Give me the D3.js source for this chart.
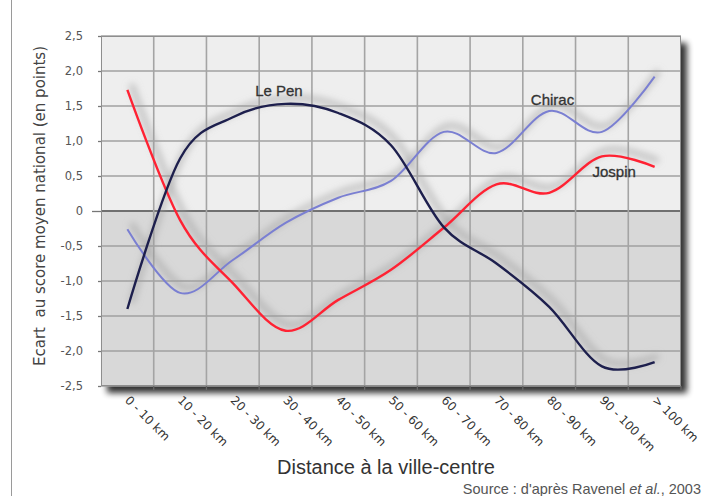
<!DOCTYPE html>
<html><head><meta charset="utf-8">
<script src="https://cdn.jsdelivr.net/npm/d3@7"></script>
<style>
html,body{margin:0;padding:0;background:#fff;}
svg{display:block;}
</style></head>
<body>
<svg id="chart" width="709" height="496"></svg>
<script>
const categories = ["0 - 10 km","10 - 20 km","20 - 30 km","30 - 40 km","40 - 50 km","50 - 60 km","60 - 70 km","70 - 80 km","80 - 90 km","90 - 100 km","> 100 km"];
const lePen  = [-1.40, 0.75, 1.34, 1.53, 1.40, 0.94, -0.23, -0.75, -1.37, -2.22, -2.16];
const chirac = [-0.26, -1.17, -0.70, -0.17, 0.19, 0.43, 1.13, 0.83, 1.43, 1.13, 1.92];
const jospin = [1.73, -0.13, -1.03, -1.71, -1.27, -0.84, -0.24, 0.38, 0.26, 0.78, 0.63];
const yTicks = [2.5, 2.0, 1.5, 1.0, 0.5, 0, -0.5, -1.0, -1.5, -2.0, -2.5];
const yTickLabels = ["2,5","2,0","1,5","1,0","0,5","0","-0,5","-1,0","-1,5","-2,0","-2,5"];
const seriesNames = ["Chirac","Jospin","Le Pen"];

const svg = d3.select("#chart");
const L = 101, R = 681, T = 36, B = 386;

const x = d3.scaleBand().domain(categories).range([L, R]).padding(0);
const y = d3.scaleLinear().domain([-2.5, 2.5]).range([B, T]);

const defs = svg.append("defs");
const sh = defs.append("filter").attr("id","frameShadow").attr("x","-10%").attr("y","-10%").attr("width","130%").attr("height","130%");
sh.append("feGaussianBlur").attr("in","SourceAlpha").attr("stdDeviation",3);
sh.append("feOffset").attr("dx",6).attr("dy",7).attr("result","ob");
sh.append("feComponentTransfer").append("feFuncA").attr("type","linear").attr("slope",0.8);
const m = sh.append("feMerge"); m.append("feMergeNode"); m.append("feMergeNode").attr("in","SourceGraphic");

const lb = defs.append("filter").attr("id","lineBlur").attr("x","-20%").attr("y","-20%").attr("width","140%").attr("height","140%");
lb.append("feGaussianBlur").attr("stdDeviation",3.5);

// left rule
svg.append("line").attr("x1",11.5).attr("x2",11.5).attr("y1",0).attr("y2",496).attr("stroke","#9a9a9a").attr("stroke-width",1);

// plot background with shadow
svg.append("rect").attr("x",L).attr("y",T).attr("width",R-L).attr("height",B-T)
  .attr("fill","#eeeeee").attr("filter","url(#frameShadow)");
svg.append("rect").attr("x",L).attr("y",y(0)).attr("width",R-L).attr("height",B-y(0)).attr("fill","#d8d8d8");

// grid
const grid = svg.append("g").attr("class","grid");
grid.selectAll("line.h").data(yTicks).join("line").attr("class","h")
  .attr("x1",L).attr("x2",R).attr("y1",d=>y(d)).attr("y2",d=>y(d))
  .attr("stroke",d=>d===0?"#707070":"#a0a0a0").attr("stroke-width",d=>d===0?1.8:1.6);
grid.selectAll("line.v").data(categories.slice(1)).join("line").attr("class","v")
  .attr("x1",d=>x(d)).attr("x2",d=>x(d)).attr("y1",T).attr("y2",B)
  .attr("stroke","#a4a4a4").attr("stroke-width",1.6);
svg.append("rect").attr("x",L+0.5).attr("y",T+0.5).attr("width",R-L-1).attr("height",B-T-1)
  .attr("fill","none").attr("stroke","#8e8e8e");

// y axis
const yAxis = d3.axisLeft(y).tickValues(yTicks).tickSize(3).tickPadding(15)
  .tickFormat((d,i)=>yTickLabels[i]);
const ya = svg.append("g").attr("transform",`translate(${L},0)`).call(yAxis);
ya.select(".domain").remove();
ya.selectAll(".tick line").attr("stroke","#777").attr("stroke-width",1.3).attr("x2",d=>d===0?-9:-3);
ya.selectAll(".tick text").attr("font-family","DejaVu Sans, sans-serif").attr("font-size",11.5).attr("fill","#555");

// x axis
const xAxis = d3.axisBottom(x).tickSize(0).tickPadding(0);
const xa = svg.append("g").attr("transform",`translate(0,${B})`).call(xAxis);
xa.select(".domain").remove();
xa.selectAll(".tick text")
  .attr("font-family","DejaVu Sans, sans-serif").attr("font-size",12).attr("fill","#333")
  .attr("text-anchor","start").attr("dy",0).attr("y",0)
  .attr("transform","translate(-3,15) rotate(45)");
svg.append("g").selectAll("line").data(categories.slice(1).concat(["__end"])).join("line")
  .attr("x1",d=>d==="__end"?R:x(d)).attr("x2",d=>d==="__end"?R:x(d))
  .attr("y1",B).attr("y2",B+4).attr("stroke","#666").attr("stroke-width",1.3);

// lines
const line = d3.line().x((d,i)=>x(categories[i])+x.bandwidth()/2).y(d=>y(d)).curve(d3.curveCardinal.tension(0));
const series = [
  {name:"Chirac", values:chirac, color:"#7a7fd2", w:2},
  {name:"Jospin", values:jospin, color:"#ff2233", w:2.4},
  {name:"Le Pen", values:lePen, color:"#1d1f4d", w:2.4}
];
const shadows = svg.append("g").attr("filter","url(#lineBlur)").attr("transform","translate(4,-6)");
series.forEach(s=>{
  shadows.append("path").attr("d",line(s.values)).attr("fill","none").attr("stroke","#9c9c9c")
    .attr("stroke-width",6).attr("stroke-opacity",0.55);
});
series.forEach(s=>{
  svg.append("path").attr("d",line(s.values)).attr("fill","none").attr("stroke",s.color)
    .attr("stroke-width",s.w).attr("stroke-linejoin","round");
});

// series labels
const labelPos = {"Le Pen":[3, 1.64], "Chirac":[8, 1.51], "Jospin":[9, 0.48]};
const labelDx = {"Le Pen":-4, "Chirac":8, "Jospin":17};
svg.append("g").selectAll("text").data(seriesNames).join("text")
  .attr("x",d=>x(categories[labelPos[d][0]]) + labelDx[d])
  .attr("y",d=>y(labelPos[d][1]))
  .attr("font-family","Liberation Sans, Arial, sans-serif").attr("font-size",15)
  .attr("fill","#333").attr("stroke","#333").attr("stroke-width",0.3)
  .text(d=>d);

// axis titles
svg.append("text").attr("transform","translate(45,206) rotate(-90)").attr("text-anchor","middle")
  .attr("font-family","DejaVu Sans, sans-serif").attr("font-size",15).attr("fill","#444")
  .text("Ecart\u00a0 au score moyen national (en points)");
svg.append("text").attr("x",386).attr("y",474).attr("text-anchor","middle")
  .attr("font-family","Liberation Sans, Arial, sans-serif").attr("font-size",20).attr("fill","#333")
  .text("Distance à la ville-centre");
const src = svg.append("text").attr("x",701).attr("y",494).attr("text-anchor","end")
  .attr("font-family","Liberation Sans, Arial, sans-serif").attr("font-size",14.5).attr("fill","#555");
src.append("tspan").text("Source : d'après Ravenel ");
src.append("tspan").attr("font-style","italic").text("et al.");
src.append("tspan").text(", 2003");
</script>
</body></html>
